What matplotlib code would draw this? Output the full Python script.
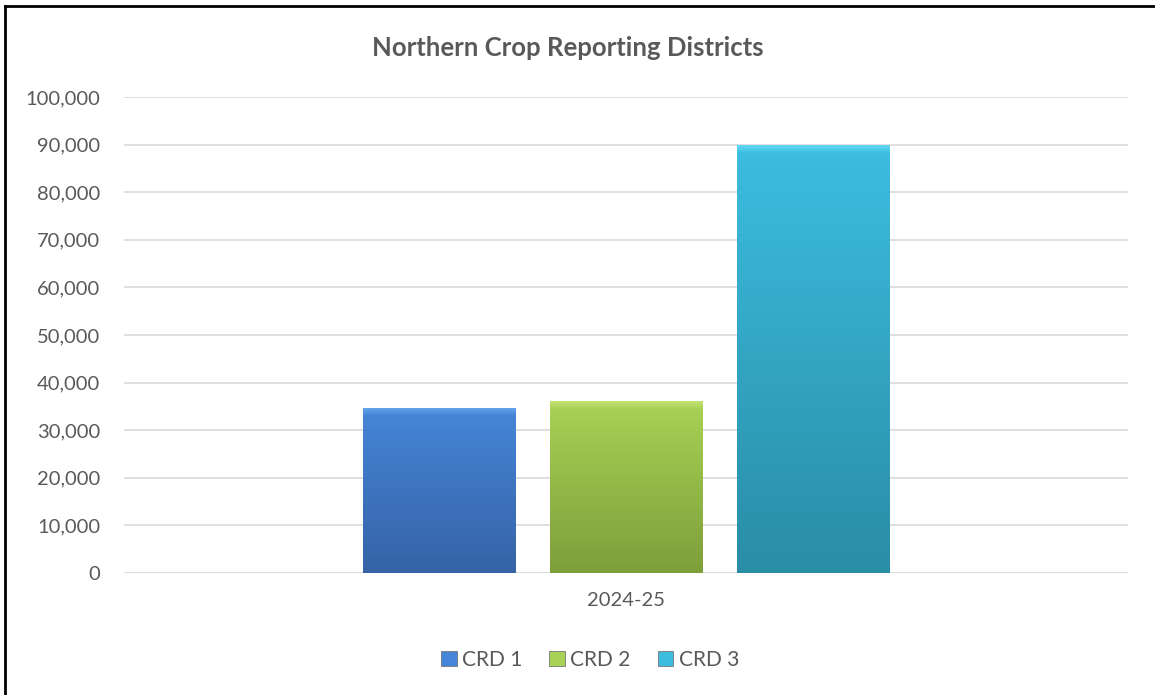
import numpy as np
import matplotlib.pyplot as plt
from matplotlib.colors import to_rgb
from matplotlib.patches import Patch
from matplotlib.ticker import FuncFormatter

# data
category = "2024-25"
series = ["CRD 1", "CRD 2", "CRD 3"]
values = [34700, 36100, 89900]

# top / bottom colours for the shaded bars, plus the lighter bevel colour
top_colors = ["#4686D8", "#A8D255", "#3CBDE0"]
bottom_colors = ["#3563A6", "#7E9E3A", "#2A8DA6"]
bevel_colors = ["#68A8EC", "#C2E272", "#62D8F2"]

plt.rcParams['font.family'] = ['Lato', 'DejaVu Sans']
text_color = "#595959"

fig = plt.figure(figsize=(11.55, 6.95), dpi=100)
ax = fig.add_axes([124 / 1155, 1 - 573 / 695, 1004 / 1155, 476 / 695])

width = 0.1514
offsets = np.array([-1, 0, 1]) * 0.1862
bars = ax.bar(offsets, values, width=width, color=top_colors,
              edgecolor="#777777", linewidth=0.7, zorder=3)

# vertical gradient inside each bar, easing into a light bevel at the top
ymax = 100000
for bar, c1, c2, c3 in zip(bars, top_colors, bottom_colors, bevel_colors):
    x0, y0 = bar.get_x(), bar.get_y()
    w, h = bar.get_width(), bar.get_height()
    px = h / ymax * 476
    n = 600
    t = np.linspace(0, 1, n)
    lo, hi, bv = np.array(to_rgb(c2)), np.array(to_rgb(c1)), np.array(to_rgb(c3))
    img = np.array([lo * (1 - v) + hi * v for v in t])
    band = max(2, int(round(n * 8 / px)))
    for i in range(band):
        k = (i + 1) / band
        img[n - band + i] = hi * (1 - k) + bv * k
    img = img.reshape(n, 1, 3)
    im = ax.imshow(img, aspect="auto", origin="lower",
                   extent=[x0, x0 + w, y0, y0 + h], zorder=3.5, interpolation="bilinear")
    im.set_clip_path(bar)

ax.set_xlim(-0.5, 0.5)
ax.set_ylim(0, ymax)
ax.set_yticks(np.arange(0, ymax + 1, 10000))
ax.yaxis.set_major_formatter(FuncFormatter(lambda v, p: f"{int(v):,}"))
ax.set_xticks([0])
ax.set_xticklabels([category])
ax.tick_params(axis="both", length=0, labelsize=14.5, colors=text_color)
ax.tick_params(axis="y", pad=17)
ax.tick_params(axis="x", pad=14)
ax.grid(axis="y", color="#d9d9d9", linewidth=1.2, zorder=0)
for s in ax.spines.values():
    s.set_visible(False)
ax.axhline(0, color="#d9d9d9", linewidth=1.2, zorder=1)

fig.text(568 / 1155, 1 - 48 / 695, "Northern Crop Reporting Districts",
         ha="center", va="center", fontsize=18.5, fontweight="bold",
         color=text_color)

handles = [Patch(facecolor=c, edgecolor="#777777", linewidth=0.6) for c in top_colors]
fig.legend(handles, series, loc="center", bbox_to_anchor=(590 / 1155, 1 - 660 / 695),
           ncol=3, frameon=False, fontsize=15, labelcolor=text_color,
           handlelength=0.75, handleheight=0.75, handletextpad=0.25, columnspacing=1.3)

# frame lines (top and left edges of the chart box)
fig.add_artist(plt.Line2D([5 / 1155, 1], [1 - 6 / 695, 1 - 6 / 695], color="black", linewidth=2))
fig.add_artist(plt.Line2D([5 / 1155, 5 / 1155], [0, 1 - 6 / 695], color="black", linewidth=2))

plt.savefig("out.png", dpi=100)
